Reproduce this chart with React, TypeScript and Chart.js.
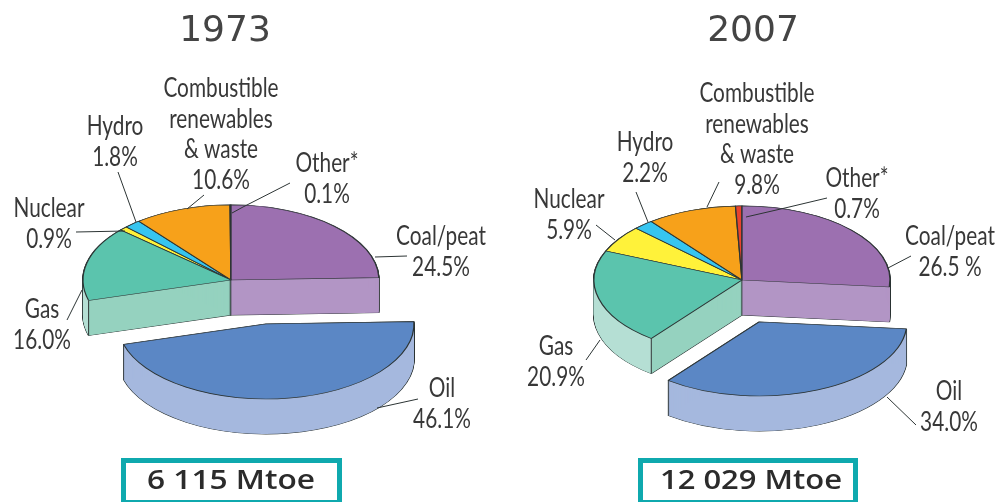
import React, { useEffect, useRef } from "react";
import { Chart, registerables } from "chart.js";

Chart.register(...registerables);

const categories = ["Coal/peat", "Oil", "Gas", "Nuclear", "Hydro", "Combustible renewables & waste", "Other*"];
const values1973 = [24.5, 46.1, 16.0, 0.9, 1.8, 10.6, 0.1];
const values2007 = [26.5, 34.0, 20.9, 5.9, 2.2, 9.8, 0.7];
const topColors = ["#9C70B0", "#5B87C5", "#5BC4AD", "#FFF23A", "#36C5F0", "#F7A11A", "#E8432E"];
const sideColors = ["#B295C5", "#A5B8DE", "#95D2BF", "#FFF58A", "#90DDF5", "#F9C878", "#F08A7C"];
const rimColors = [null, null, "#B5DFD4", null, null, null, null];
const totals = ["6 115 Mtoe", "12 029 Mtoe"];
const years = ["1973", "2007"];
const INK = "#383838";
const LINE = "#2c3434";

type Label = { lines: string[]; x: number; y: number };

const labels1973: Label[] = [
  { lines: ["Coal/peat", "24.5%"], x: 441, y: 237 },
  { lines: ["Oil", "46.1%"], x: 442, y: 389 },
  { lines: ["Gas", "16.0%"], x: 42, y: 310 },
  { lines: ["Nuclear", "0.9%"], x: 49, y: 209 },
  { lines: ["Hydro", "1.8%"], x: 115, y: 127 },
  { lines: ["Combustible", "renewables", "& waste", "10.6%"], x: 221, y: 89 },
  { lines: ["Other*", "0.1%"], x: 327, y: 164 },
];
const labels2007: Label[] = [
  { lines: ["Coal/peat", "26.5 %"], x: 950, y: 237 },
  { lines: ["Oil", "34.0%"], x: 949, y: 392 },
  { lines: ["Gas", "20.9%"], x: 556, y: 347 },
  { lines: ["Nuclear", "5.9%"], x: 569, y: 200 },
  { lines: ["Hydro", "2.2%"], x: 645, y: 143 },
  { lines: ["Combustible", "renewables", "& waste", "9.8%"], x: 757, y: 94 },
  { lines: ["Other*", "0.7%"], x: 857, y: 179 },
];
const leaders1973 = [
  [[407, 256], [375, 257]],
  [[418, 399], [377, 408]],
  [[67, 320], [82, 290]],
  [[76, 232], [125, 231]],
  [[118, 172], [136, 222]],
  [[204, 195], [187, 209]],
  [[290, 183], [243, 207], [232, 213]],
];
const leaders2007 = [
  [[911, 256], [888, 268]],
  [[916, 425], [887, 397]],
  [[586, 360], [600, 340]],
  [[596, 225], [615, 240]],
  [[636, 192], [648, 222]],
  [[719, 182], [707, 207]],
  [[827, 198], [785, 208], [746, 217]],
];

const views = [
  {
    originX: 0, cx: 231, cy: 280, rx: 148, ry: 75, depth: 35, oilX: 266, oilY: 324,
    titleX: 225, titleY: 32, box: [121, 458, 221, 47], totalX: 231, totalW: 168,
    values: values1973, labels: labels1973, leaders: leaders1973, year: years[0], total: totals[0],
  },
  {
    originX: 500, cx: 742, cy: 280, rx: 148, ry: 74, depth: 35, oilX: 759, oilY: 322,
    titleX: 753, titleY: 32, box: [638, 458, 220, 47], totalX: 751, totalW: 182,
    values: values2007, labels: labels2007, leaders: leaders2007, year: years[1], total: totals[1],
  },
];

const OIL = 1;
const TEXT_SQUEEZE = 0.8;
const BACK_TO_FRONT = [3, 4, 5, 6, 0, 2];

function pie3d(view: (typeof views)[number]) {
  const place = (ctx: any, arc: any, i: number, dy: number) => {
    const x = i === OIL ? view.oilX : view.cx;
    const y = (i === OIL ? view.oilY : view.cy) + dy;
    ctx.translate(x, y);
    ctx.scale(1, view.ry / view.rx);
    ctx.translate(-arc.x, -arc.y);
  };
  const stamp = (ctx: any, arc: any, i: number, dy: number, opts: any) => {
    const saved = arc.options;
    arc.options = { ...saved, ...opts };
    ctx.save();
    place(ctx, arc, i, dy);
    arc.draw(ctx);
    ctx.restore();
    arc.options = saved;
  };
  const slice = (ctx: any, arc: any, i: number) => {
    // silhouette of the extruded side
    for (let d = 0; d <= view.depth; d++) {
      stamp(ctx, arc, i, d, { backgroundColor: LINE, borderColor: LINE, borderWidth: 1.6 });
    }
    for (let d = 0; d <= view.depth; d++) {
      stamp(ctx, arc, i, d, { backgroundColor: sideColors[i], borderWidth: 0 });
    }
    const rim = rimColors[i];
    if (rim) {
      const cornerX = view.cx + view.rx * Math.cos(arc.startAngle);
      const cornerY = view.cy + view.ry * Math.sin(arc.startAngle);
      ctx.save();
      ctx.beginPath();
      ctx.rect(0, 0, cornerX, 502);
      ctx.clip();
      for (let d = 0; d <= view.depth; d++) {
        stamp(ctx, arc, i, d, { backgroundColor: rim, borderWidth: 0 });
      }
      ctx.restore();
      ctx.strokeStyle = LINE;
      ctx.lineWidth = 1;
      ctx.beginPath();
      ctx.moveTo(cornerX, cornerY);
      ctx.lineTo(cornerX, cornerY + view.depth);
      ctx.stroke();
    }
  };
  return {
    id: "pie3d",
    beforeDatasetDraw(chart: any) {
      const ctx = chart.ctx;
      const arcs = chart.getDatasetMeta(0).data;
      ctx.save();
      ctx.translate(-view.originX, 0);
      BACK_TO_FRONT.forEach((i) => slice(ctx, arcs[i], i));
      BACK_TO_FRONT.forEach((i) => stamp(ctx, arcs[i], i, 0, {}));
      slice(ctx, arcs[OIL], OIL);
      stamp(ctx, arcs[OIL], OIL, 0, {});
      ctx.restore();
      return false;
    },
    afterDraw(chart: any) {
      const ctx = chart.ctx;
      ctx.save();
      ctx.translate(-view.originX, 0);

      ctx.strokeStyle = LINE;
      ctx.lineWidth = 1;
      view.leaders.forEach((pts) => {
        ctx.beginPath();
        pts.forEach(([x, y], k) => (k ? ctx.lineTo(x, y) : ctx.moveTo(x, y)));
        ctx.stroke();
      });

      ctx.fillStyle = INK;
      ctx.textAlign = "center";
      ctx.textBaseline = "middle";
      ctx.font = '26px Lato, "Noto Sans", sans-serif';
      view.labels.forEach((l) => {
        l.lines.forEach((t, k) => {
          ctx.save();
          ctx.translate(l.x, l.y + k * 30.5);
          ctx.scale(TEXT_SQUEEZE, 1);
          ctx.fillText(t, 0, 0);
          ctx.restore();
        });
      });

      ctx.font = '36px "DejaVu Sans", sans-serif';
      ctx.fillStyle = "#444444";
      ctx.fillText(view.year, view.titleX, view.titleY);

      const [bx, by, bw, bh] = view.box;
      ctx.strokeStyle = "#0FA9AE";
      ctx.lineWidth = 5;
      ctx.strokeRect(bx + 2.5, by + 2.5, bw - 5, bh - 5);

      ctx.fillStyle = "#2b2b2b";
      ctx.font = '600 27px "Open Sans", sans-serif';
      ctx.save();
      const w = ctx.measureText(view.total).width;
      ctx.translate(view.totalX, 481);
      ctx.scale(view.totalW / w, 1);
      ctx.fillText(view.total, 0, 0);
      ctx.restore();

      ctx.restore();
    },
  };
}

function Pie({ view }: { view: (typeof views)[number] }) {
  const ref = useRef<HTMLCanvasElement | null>(null);
  useEffect(() => {
    if (!ref.current) return;
    const chart = new Chart(ref.current, {
      type: "pie",
      data: {
        labels: categories,
        datasets: [
          {
            data: view.values,
            backgroundColor: topColors,
            borderColor: LINE,
            borderWidth: 1.3,
          },
        ],
      },
      options: {
        responsive: false,
        animation: false,
        events: [],
        radius: view.rx,
        layout: { padding: 0 },
        plugins: { legend: { display: false }, tooltip: { enabled: false }, title: { display: false } },
      } as any,
      plugins: [pie3d(view)],
    });
    return () => chart.destroy();
  }, [view]);
  return (
    <canvas
      ref={ref}
      width={500}
      height={502}
      style={{ position: "absolute", left: view.originX, top: 0, width: 500, height: 502, display: "block" }}
    />
  );
}

export default function App() {
  return (
    <div style={{ position: "absolute", left: 0, top: 0, width: 1000, height: 502, overflow: "hidden", background: "#fff" }}>
      {views.map((v) => (
        <Pie key={v.year} view={v} />
      ))}
    </div>
  );
}
